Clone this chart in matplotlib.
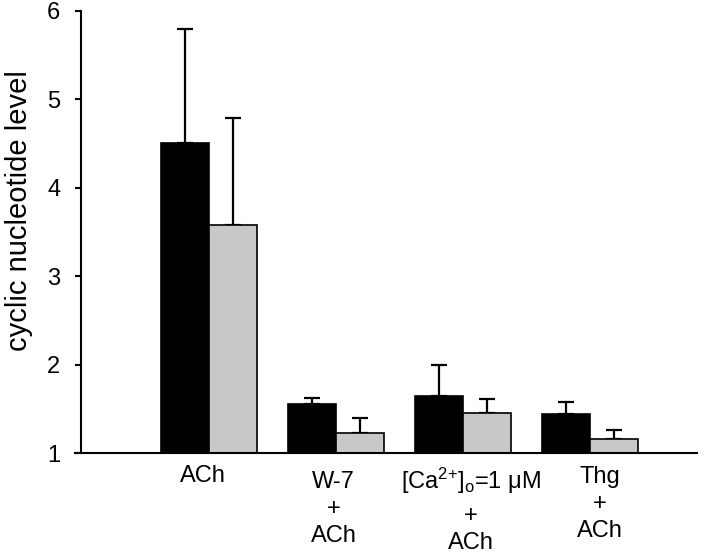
import matplotlib
matplotlib.use("Agg")
import matplotlib.pyplot as plt
import numpy as np

plt.rcParams['font.family'] = ['Liberation Sans', 'DejaVu Sans']
plt.rcParams['mathtext.fontset'] = 'custom'
plt.rcParams['mathtext.rm'] = 'Liberation Sans'
plt.rcParams['mathtext.it'] = 'Liberation Sans'

# data
labels = [['ACh'],
          ['W-7', '+', 'ACh'],
          [r'[Ca$^{2{+}}$]$_\mathrm{o}$=1 μM', '+', 'ACh'],
          ['Thg', '+', 'ACh']]
black_vals = [4.51, 1.55, 1.64, 1.44]
black_err = [1.29, 0.07, 0.36, 0.14]
gray_vals = [3.58, 1.23, 1.45, 1.16]
gray_err = [1.21, 0.17, 0.16, 0.10]
yticks = [1, 2, 3, 4, 5, 6]

fig = plt.figure(figsize=(7.2, 5.54), dpi=100)
ax = fig.add_axes([0.1125, 0.1823, 0.8555, 0.798])

x = np.arange(len(labels))
w = 0.38
base = 1.0
black_h = np.array(black_vals) - base
gray_h = np.array(gray_vals) - base

ax.bar(x - w / 2, black_h, w, bottom=base, color='black', edgecolor='black',
       linewidth=1.2, zorder=2)
ax.bar(x + w / 2, gray_h, w, bottom=base, color='#c8c8c8', edgecolor='black',
       linewidth=1.2, zorder=2)
zeros = np.zeros(len(x))
ax.errorbar(x - w / 2, black_vals, yerr=[zeros, black_err], fmt='none',
            ecolor='black', elinewidth=1.6, capsize=5.5, capthick=1.6, zorder=1)
ax.errorbar(x + w / 2, gray_vals, yerr=[zeros, gray_err], fmt='none',
            ecolor='black', elinewidth=1.6, capsize=5.5, capthick=1.6, zorder=1)

xmin, xmax = -1.008, 3.843
ax.set_xlim(xmin, xmax)
ax.set_ylim(1, 6)
ax.set_yticks(yticks)
ax.tick_params(axis='y', labelsize=17, length=4, width=1.5, pad=11,
               direction='out')
ax.set_xticks([])

for s in ['top', 'right']:
    ax.spines[s].set_visible(False)
ax.spines['left'].set_linewidth(1.5)
ax.spines['bottom'].set_linewidth(1.5)
ax.spines['bottom'].set_bounds(xmin - 0.05, xmax)

fig.text(19.5 / 720, 1 - 211 / 554, 'cyclic nucleotide level', rotation=90,
         ha='center', va='center', fontsize=21)

# category labels under the axis, one text per line (baselines in pixels)
x_shift = [-0.05, -0.02, 0.06, 0.08]
baselines = [[482], [488, 515, 542], [489, 522, 549], [483, 510, 537]]
tr = ax.get_xaxis_transform()
for i, lines in enumerate(labels):
    for line, py in zip(lines, baselines[i]):
        ax.text(x[i] + x_shift[i], (453 - py) / 442, line, transform=tr,
                ha='center', va='baseline', fontsize=17)

fig.savefig('out.png', dpi=100)
